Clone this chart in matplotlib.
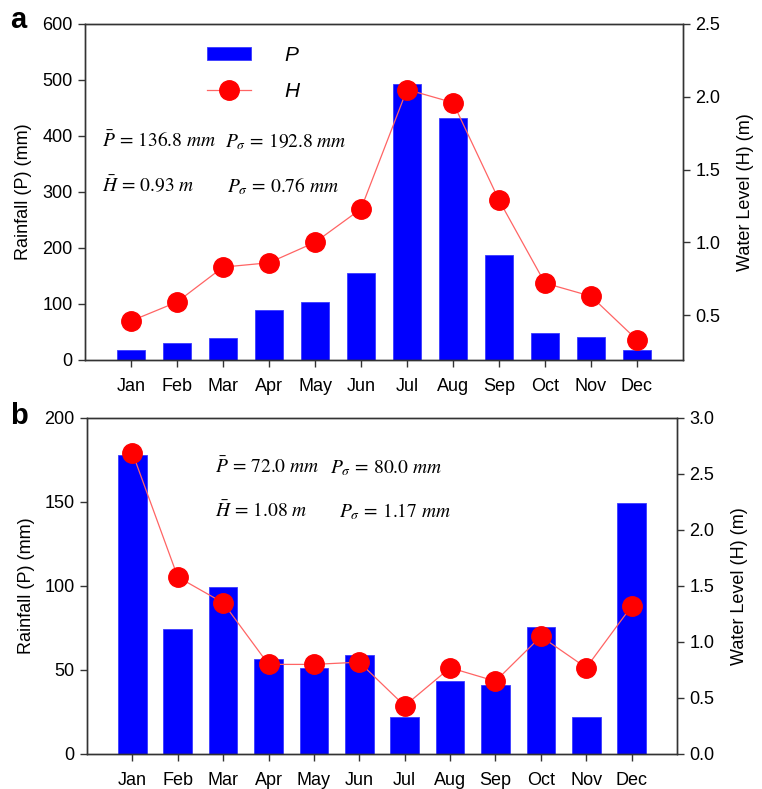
import matplotlib
matplotlib.use("Agg")
import matplotlib.pyplot as plt
from matplotlib.patches import Patch
from matplotlib.lines import Line2D
import numpy as np

plt.rcParams['font.family'] = ['Liberation Sans', 'DejaVu Sans']
plt.rcParams['mathtext.fontset'] = 'stix'

months = ['Jan', 'Feb', 'Mar', 'Apr', 'May', 'Jun', 'Jul', 'Aug', 'Sep', 'Oct', 'Nov', 'Dec']

# Panel a
rain_a = [17.9, 29.8, 39.9, 89.3, 103.0, 154.8, 492.0, 432.7, 188.0, 48.8, 41.0, 17.9]
level_a = [0.46, 0.59, 0.83, 0.86, 1.00, 1.23, 2.05, 1.96, 1.29, 0.72, 0.63, 0.33]
# Panel b
rain_b = [178.0, 74.4, 99.6, 56.3, 51.0, 58.7, 22.2, 43.6, 40.9, 75.4, 21.8, 149.2]
level_b = [2.69, 1.58, 1.35, 0.80, 0.80, 0.82, 0.43, 0.77, 0.65, 1.05, 0.77, 1.32]

ann_a = [r'$\bar{P}\,=\,136.8\ mm$', r'$P_{\sigma}\,=\,192.8\ mm$', r'$\bar{H}\,=\,0.93\ m$', r'$P_{\sigma}\,=\,0.76\ mm$']
ann_b = [r'$\bar{P}\,=\,72.0\ mm$', r'$P_{\sigma}\,=\,80.0\ mm$', r'$\bar{H}\,=\,1.08\ m$', r'$P_{\sigma}\,=\,1.17\ mm$']

W, H = 762, 789
fig = plt.figure(figsize=(W / 100, H / 100), dpi=100)

BAR_C = '#0000ff'
LINE_C = '#ff6464'
MARK_C = '#ff0000'
SPINE_C = '#333333'
FS = 13


def px(x0, y0, x1, y1):
    return [x0 / W, 1 - y1 / H, (x1 - x0) / W, (y1 - y0) / H]


def panel(rect, rain, level, ylim_l, yticks_l, ylim_r, yticks_r):
    ax = fig.add_axes(rect)
    x = np.arange(len(months))
    ax.bar(x, rain, width=0.63, color=BAR_C, edgecolor='#3a3aff', linewidth=0.6, zorder=2)
    ax.set_xlim(-1, 12)
    ax.set_ylim(*ylim_l)
    ax.set_yticks(yticks_l)
    ax.set_xticks(x)
    ax.set_xticklabels(months)
    ax.set_ylabel('Rainfall (P) (mm)', fontsize=FS, labelpad=7)
    ax2 = ax.twinx()
    ax2.plot(x, level, color=LINE_C, lw=0.9, marker='o', markersize=14,
             markerfacecolor=MARK_C, markeredgecolor=MARK_C, zorder=3)
    ax2.set_ylim(*ylim_r)
    ax2.set_yticks(yticks_r)
    ax2.set_yticklabels([f'{v:.1f}' for v in yticks_r])
    ax2.set_ylabel('Water Level (H) (m)', fontsize=FS, labelpad=12)
    for a in (ax, ax2):
        for s in a.spines.values():
            s.set_color(SPINE_C)
            s.set_linewidth(1.0)
        a.tick_params(direction='out', length=5, width=1, color=SPINE_C,
                      labelsize=FS, pad=4)
    ax.tick_params(axis='x', pad=8)
    return ax, ax2


axa, axa2 = panel(px(85, 24, 683, 360), rain_a, level_a, (0, 600),
                  [0, 100, 200, 300, 400, 500, 600], (0.192, 2.5), [0.5, 1.0, 1.5, 2.0, 2.5])
axb, axb2 = panel(px(87, 418, 677, 754), rain_b, level_b, (0, 200),
                  [0, 50, 100, 150, 200], (0, 3.0), [0.0, 0.5, 1.0, 1.5, 2.0, 2.5, 3.0])


def ftext(x, y, s, **kw):
    fig.text(x / W, 1 - y / H, s, **kw)


# annotations
for (s, x, y) in zip(ann_a, [102, 225, 102, 227], [147, 147, 192, 192]):
    ftext(x, y, s, fontsize=14, va='baseline', ha='left')
for (s, x, y) in zip(ann_b, [215, 330, 215, 339], [473, 473, 517, 517]):
    ftext(x, y, s, fontsize=14, va='baseline', ha='left')

# panel labels
ftext(10, 28, 'a', fontsize=21, fontweight='bold', va='baseline')
ftext(10, 424, 'b', fontsize=21, fontweight='bold', va='baseline')

# legend
handles = [Patch(facecolor=BAR_C, edgecolor='#3a3aff', linewidth=0.6),
           Line2D([], [], color=LINE_C, lw=0.9, marker='o', markersize=14,
                  markerfacecolor=MARK_C, markeredgecolor=MARK_C)]
leg = axa2.legend(handles, ['P', 'H'], loc='upper left',
                  bbox_to_anchor=(207 / W, 1 - 46 / H), bbox_transform=fig.transFigure,
                  frameon=False, borderpad=0, borderaxespad=0, handlelength=2.1,
                  handleheight=0.6, handletextpad=1.6, labelspacing=0.8,
                  prop={'size': 15, 'style': 'italic'})

fig.savefig('out.png', dpi=100)
